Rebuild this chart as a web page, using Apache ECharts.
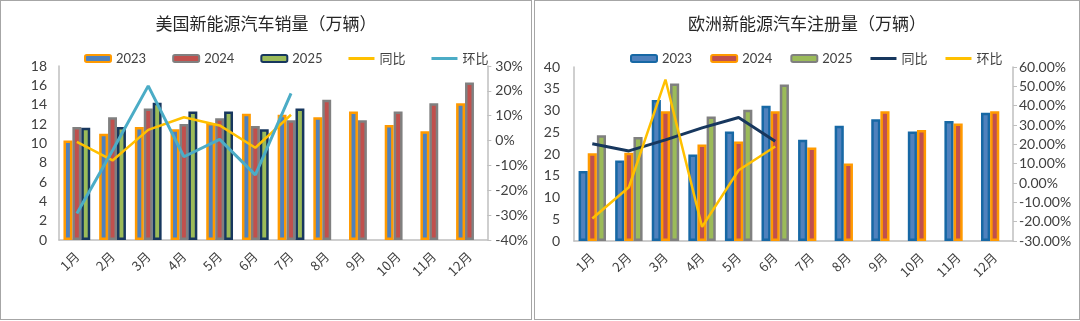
<!DOCTYPE html>
<html>
<head>
<meta charset="utf-8">
<script src="https://cdn.jsdelivr.net/npm/echarts@6/dist/echarts.min.js"></script>
<style>
html,body{margin:0;padding:0;background:#fff;}
#wrap{position:relative;width:1080px;height:321px;}
#c1{position:absolute;left:0;top:0;width:532px;height:320px;border:1px solid #a6a6a6;box-sizing:border-box;}
#c2{position:absolute;left:534px;top:0;width:546px;height:320px;border:1px solid #a6a6a6;box-sizing:border-box;}
</style>
</head>
<body>
<div id="wrap"><div id="c1"></div><div id="c2"></div></div>
<script>
// ---- data ----
const months = ['1月','2月','3月','4月','5月','6月','7月','8月','9月','10月','11月','12月'];
// US NEV sales (10k units)
const us2023 = [10.3, 11.0, 11.7, 11.45, 12.1, 13.05, 12.95, 12.7, 13.3, 11.9, 11.25, 14.15];
const us2024 = [11.7, 12.7, 13.6, 12.0, 12.6, 11.8, 12.4, 14.5, 12.4, 13.3, 14.15, 16.3];
const us2025 = [11.6, 11.7, 14.2, 13.3, 13.3, 11.45, 13.6];
const usYoY = [-0.5, -8.0, 4.3, 9.4, 6.1, -2.9, 10.4];
const usMoM = [-29.3, -4.0, 22.0, -6.5, 0.5, -13.8, 19.0];
// Europe NEV registrations (10k units)
const eu2023 = [16.1, 18.5, 32.4, 19.9, 25.2, 31.1, 23.3, 26.5, 28.0, 25.2, 27.6, 29.5];
const eu2024 = [20.2, 20.3, 29.8, 22.2, 22.9, 29.8, 21.5, 17.8, 29.8, 25.5, 27.0, 29.8];
const eu2025 = [24.3, 23.9, 36.2, 28.6, 30.2, 36.0];
const euYoY = [20.3, 16.6, 22.3, 28.5, 33.9, 21.6];
const euMoM = [-18.4, -2.2, 53.5, -22.7, 6.6, 18.9];
const legendNames = ['2023','2024','2025','同比','环比'];

const BLUE='#4F81BD', RED='#C0504D', GREEN='#9BBB59', ORANGE='#FF9A00', GRAY='#808080', NAVY='#17375E', DBLUE='#1768A5', YELLOW='#FFC000', TEAL='#4BACC6';
const NUMF = 'Lato, "Noto Sans CJK SC", sans-serif';
const CJKF = '"Noto Sans CJK SC", sans-serif';
const TXT = '#404040';
// thin line legend icon (bounding box 26x7, bar 3px tall in the middle)
const LINE_ICON = 'path://M0,0L0.01,0L0.01,0.01Z M0,2L26,2L26,5L0,5Z M25.99,7L26,7L26,6.99Z';

function bar(name, data, fill, border){
  return {name, type:'bar', data, barGap:'0%', barCategoryGap:'25%',
    itemStyle:{color:fill, borderColor:border, borderWidth:2.5}};
}
function line(name, data, color, w){
  return {name, type:'line', yAxisIndex:1, data, symbol:'none', showSymbol:false,
    lineStyle:{color, width:w}, itemStyle:{color}, z:5};
}
function xAxis(){
  return {type:'category', data:months, boundaryGap:true,
    axisLine:{lineStyle:{color:'#BFBFBF', width:1.5}}, axisTick:{show:false},
    axisLabel:{rotate:45, margin:14, color:TXT, fontSize:13, fontFamily:CJKF}};
}
function legend(left, gap, lineColors){
  return {left, top:46, itemWidth:26, itemHeight:7, itemGap:gap,
    data:legendNames.map((n,i)=> i<3 ? {name:n} :
      {name:n, icon:LINE_ICON, itemStyle:{color:lineColors[i-3], borderWidth:0}}),
    textStyle:{color:TXT, fontSize:13, fontFamily:NUMF}};
}
function title(t){
  return {text:t, left:'center', top:9,
    textStyle:{fontSize:17, fontWeight:'normal', color:'#262626', fontFamily:CJKF}};
}

const c1 = echarts.init(document.getElementById('c1'));
c1.setOption({
  animation:false,
  title:title('美国新能源汽车销量（万辆）'),
  legend:legend(78, 26, [YELLOW, TEAL]),
  grid:{left:58, right:43, top:65, bottom:79},
  xAxis:xAxis(),
  yAxis:[
    {type:'value', min:0, max:18, interval:2, splitLine:{show:false},
     axisLine:{show:true, lineStyle:{color:'#BFBFBF', width:1.5}}, axisTick:{show:false},
     axisLabel:{color:TXT, fontSize:14, fontFamily:NUMF, margin:12}},
    {type:'value', min:-40, max:30, interval:10, splitLine:{show:false},
     axisLine:{show:true, lineStyle:{color:'#BFBFBF', width:1.5}}, axisTick:{show:true, length:4, lineStyle:{color:'#BFBFBF'}},
     axisLabel:{color:TXT, fontSize:14, fontFamily:NUMF, margin:8, formatter:'{value}%'}}
  ],
  series:[
    bar('2023', us2023, BLUE, ORANGE),
    bar('2024', us2024, RED, GRAY),
    bar('2025', us2025, GREEN, NAVY),
    line('同比', usYoY, YELLOW, 2.5),
    line('环比', usMoM, TEAL, 3)
  ]
});

const c2 = echarts.init(document.getElementById('c2'));
c2.setOption({
  animation:false,
  title:title('欧洲新能源汽车注册量（万辆）'),
  legend:legend(90, 18, [NAVY, YELLOW]),
  grid:{left:39, right:66, top:66, bottom:78},
  xAxis:xAxis(),
  yAxis:[
    {type:'value', min:0, max:40, interval:5, splitLine:{show:false},
     axisLine:{show:true, lineStyle:{color:'#BFBFBF', width:1.5}}, axisTick:{show:false},
     axisLabel:{color:TXT, fontSize:14, fontFamily:NUMF, margin:14}},
    {type:'value', min:-30, max:60, interval:10, splitLine:{show:false},
     axisLine:{show:true, lineStyle:{color:'#BFBFBF', width:1.5}}, axisTick:{show:true, length:4, lineStyle:{color:'#BFBFBF'}},
     axisLabel:{color:TXT, fontSize:14, fontFamily:NUMF, margin:6, formatter:v=>v.toFixed(2)+'%'}}
  ],
  series:[
    bar('2023', eu2023, BLUE, DBLUE),
    bar('2024', eu2024, RED, ORANGE),
    bar('2025', eu2025, GREEN, GRAY),
    line('同比', euYoY, NAVY, 3),
    line('环比', euMoM, YELLOW, 2.5)
  ]
});
</script>
</body>
</html>
